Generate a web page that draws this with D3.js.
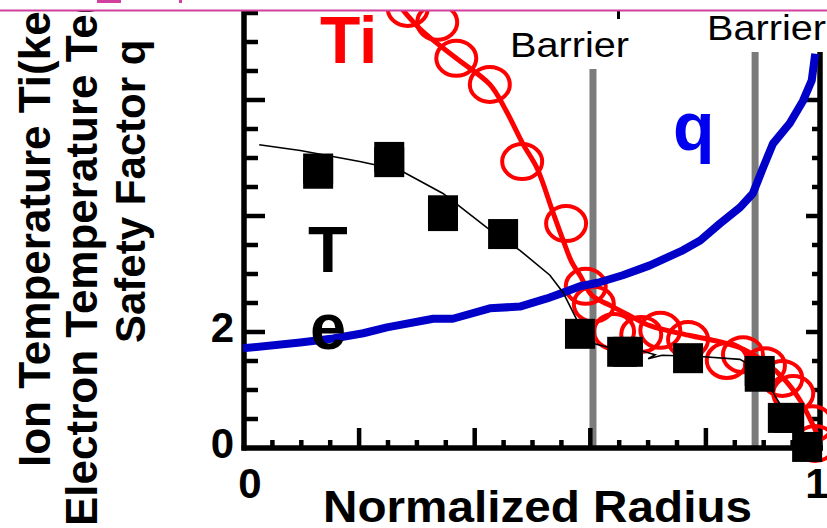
<!DOCTYPE html>
<html>
<head>
<meta charset="utf-8">
<script src="https://cdn.jsdelivr.net/npm/d3@7/dist/d3.min.js"></script>
<style>
  html, body { margin: 0; padding: 0; background: #fff; }
  svg { display: block; }
</style>
</head>
<body>
<svg id="chart" width="827" height="528"></svg>
<script>
// Electron temperature measurements (filled squares)
const teRadius = [0.130, 0.130, 0.253, 0.253, 0.346, 0.346, 0.450, 0.583, 0.656, 0.666, 0.770, 0.894, 0.894, 0.934, 0.945, 0.976];
const teValue  = [4.81, 4.72, 5.01, 4.92, 4.09, 3.99, 3.68, 1.96, 1.65, 1.65, 1.54, 1.32, 1.22, 0.51, 0.51, 0.01];

// Electron temperature fitted profile (thin black line)
const teFitRadius = [0.028, 0.099, 0.202, 0.272, 0.346, 0.422, 0.479, 0.531, 0.554, 0.578, 0.600, 0.635, 0.692, 0.713, 0.701, 0.725, 0.791, 0.860, 0.898, 0.920, 0.946, 0.969];
const teFitValue  = [5.22, 5.12, 4.93, 4.78, 4.38, 3.79, 3.40, 2.97, 2.67, 2.19, 1.81, 1.72, 1.66, 1.60, 1.53, 1.59, 1.57, 1.52, 1.29, 0.90, 0.47, 0.09];

// Ion temperature measurements (open circles)
const tiRadius = [0.285, 0.336, 0.369, 0.427, 0.483, 0.559, 0.593, 0.607, 0.642, 0.689, 0.722, 0.770, 0.837, 0.865, 0.903, 0.933, 0.952, 0.985, 0.990];
const tiValue  = [7.57, 7.33, 6.71, 6.26, 4.93, 3.86, 2.78, 2.47, 2.00, 1.95, 2.02, 1.86, 1.50, 1.60, 1.41, 1.19, 0.93, 0.41, 0.07];

// Ion temperature fitted profile (thick red line)
const tiFitRadius = [0.263, 0.306, 0.369, 0.427, 0.455, 0.484, 0.509, 0.535, 0.554, 0.569, 0.583, 0.604, 0.635, 0.666, 0.704, 0.773, 0.817, 0.860, 0.903, 0.938, 0.964, 0.985, 0.998];
const tiFitValue  = [7.71, 7.22, 6.71, 6.26, 5.81, 5.24, 4.81, 4.09, 3.57, 3.19, 2.97, 2.62, 2.45, 2.29, 2.10, 1.93, 1.84, 1.72, 1.47, 1.16, 0.81, 0.41, 0.12];

// Safety factor profile
const qRadius = [0.000, 0.099, 0.156, 0.208, 0.249, 0.329, 0.363, 0.427, 0.479, 0.526, 0.554, 0.583, 0.614, 0.657, 0.704, 0.761, 0.791, 0.825, 0.860, 0.882, 0.900, 0.917, 0.946, 0.969, 0.984, 0.990];
const qValue  = [1.71, 1.81, 1.88, 1.97, 2.07, 2.22, 2.22, 2.40, 2.43, 2.57, 2.67, 2.78, 2.84, 2.97, 3.14, 3.40, 3.57, 3.86, 4.14, 4.38, 4.83, 5.24, 5.59, 5.98, 6.33, 6.79];

// Transport barrier locations
const barrierRadius = [0.6055, 0.886];
const barrierText = ["Barrier", "Barrier"];

// Tick labels
const xTickValues = [0, 1];
const xTickLabels = ["0", "1"];
const yTickValues = [0, 2];
const yTickLabels = ["0", "2"];

const FONT = "'Liberation Sans', Arial, Helvetica, sans-serif";
const W = 827, H = 528;

const svg = d3.select("#chart");
svg.append("rect").attr("width", W).attr("height", H).attr("fill", "#fff");

svg.append("defs").append("clipPath").attr("id", "page")
  .append("rect").attr("x", 0).attr("y", 11).attr("width", W).attr("height", H - 11);

const g = svg.append("g").attr("clip-path", "url(#page)");

const x = d3.scaleLinear().domain([0, 1]).range([243, 821]);
const y = d3.scaleLinear().domain([0, 7.5]).range([447.5, 12.5]);

const leftX = 244, rightX = 820, bottomY = 448, rightTop = 52;

// ---- barriers ----
const barrierLabelY = [57, 40];
const barrierLabelX = [510, 707];
barrierRadius.forEach((r, i) => {
  g.append("line")
    .attr("x1", x(r)).attr("x2", x(r))
    .attr("y1", barrierLabelY[i] + 12).attr("y2", bottomY)
    .attr("stroke", "#7b7b7b").attr("stroke-width", 7);
  g.append("text")
    .attr("x", barrierLabelX[i]).attr("y", barrierLabelY[i])
    .attr("font-family", FONT).attr("font-size", 35)
    .attr("textLength", 119).attr("lengthAdjust", "spacingAndGlyphs")
    .attr("fill", "#000").text(barrierText[i]);
});

// ---- axes ----
function tickAxis(axisFn, scale, values, size) {
  return axisFn(scale).tickValues(values).tickSize(size).tickFormat("");
}
function styleAxis(sel, w) {
  sel.select(".domain").remove();
  sel.selectAll(".tick line").attr("stroke", "#000").attr("stroke-width", w);
}

const yMinor = d3.range(0.5, 7.51, 0.5).filter(v => v % 2 !== 0);
const yMajor = [2, 4, 6];
const yMinorRight = d3.range(0.5, 6.01, 0.5).filter(v => v % 2 !== 0);
const xMinor = d3.range(1, 20).map(i => i / 20).filter(v => Math.abs(v * 5 - Math.round(v * 5)) > 1e-6);
const xMajor = [0.2, 0.4, 0.6, 0.8];

g.append("g").attr("transform", `translate(${leftX},0)`)
  .call(tickAxis(d3.axisLeft, y, yMinor, -14)).call(s => styleAxis(s, 4.5));
g.append("g").attr("transform", `translate(${leftX},0)`)
  .call(tickAxis(d3.axisLeft, y, yMajor, -21)).call(s => styleAxis(s, 4.5));
g.append("g").attr("transform", `translate(${rightX},0)`)
  .call(tickAxis(d3.axisRight, y, yMinorRight, -8)).call(s => styleAxis(s, 4.5));
g.append("g").attr("transform", `translate(${rightX},0)`)
  .call(tickAxis(d3.axisRight, y, yMajor, -14)).call(s => styleAxis(s, 4.5));
g.append("g").attr("transform", `translate(0,${bottomY})`)
  .call(tickAxis(d3.axisBottom, x, xMinor, -8)).call(s => styleAxis(s, 4.5));
g.append("g").attr("transform", `translate(0,${bottomY})`)
  .call(tickAxis(d3.axisBottom, x, xMajor, -20)).call(s => styleAxis(s, 4.5));

g.append("line").attr("x1", leftX).attr("x2", leftX).attr("y1", 0).attr("y2", bottomY + 2.5)
  .attr("stroke", "#000").attr("stroke-width", 5.5);
g.append("line").attr("x1", leftX - 2.5).attr("x2", rightX + 3).attr("y1", bottomY).attr("y2", bottomY)
  .attr("stroke", "#000").attr("stroke-width", 5.5);
g.append("line").attr("x1", rightX).attr("x2", rightX).attr("y1", rightTop).attr("y2", bottomY + 2.5)
  .attr("stroke", "#000").attr("stroke-width", 5.5);

// tick labels
xTickValues.forEach((v, i) => {
  g.append("text")
    .attr("x", x(v) + (v === 0 ? 7 : -4)).attr("y", 498)
    .attr("text-anchor", "middle")
    .attr("font-family", FONT).attr("font-weight", "bold").attr("font-size", 42)
    .text(xTickLabels[i]);
});
yTickValues.forEach((v, i) => {
  g.append("text")
    .attr("x", 234).attr("y", y(v) + 10)
    .attr("text-anchor", "end")
    .attr("font-family", FONT).attr("font-weight", "bold").attr("font-size", 42)
    .text(yTickLabels[i]);
});

// axis titles
g.append("text")
  .attr("x", 323).attr("y", 522)
  .attr("font-family", FONT).attr("font-weight", "bold").attr("font-size", 44)
  .attr("textLength", 429).attr("lengthAdjust", "spacingAndGlyphs")
  .text("Normalized Radius");

const yTitles = [
  { text: "Ion Temperature Ti(keV)", x: 50, y: 467, size: 44 },
  { text: "Electron Temperature Te(keV)", x: 97, y: 526, size: 44 },
  { text: "Safety Factor q", x: 145, y: 343, size: 42 }
];
yTitles.forEach(t => {
  g.append("text")
    .attr("transform", `translate(${t.x},${t.y}) rotate(-90)`)
    .attr("font-family", FONT).attr("font-weight", "bold").attr("font-size", t.size)
    .text(t.text);
});

// ---- data ----
const plot = g.append("g");

// ion temperature fit
plot.append("path")
  .datum(d3.zip(tiFitRadius, tiFitValue))
  .attr("d", d3.line().x(d => x(d[0])).y(d => y(d[1])).curve(d3.curveCatmullRom))
  .attr("fill", "none").attr("stroke", "#ff0000").attr("stroke-width", 5)
  .attr("stroke-linejoin", "round");

// ion temperature points
plot.selectAll("ellipse.ti")
  .data(d3.zip(tiRadius, tiValue))
  .join("ellipse").attr("class", "ti")
  .attr("cx", d => x(d[0])).attr("cy", d => y(d[1]))
  .attr("rx", 20).attr("ry", 17.5)
  .attr("fill", "none").attr("stroke", "#ff0000").attr("stroke-width", 4);

// safety factor
plot.append("path")
  .datum(d3.zip(qRadius, qValue))
  .attr("d", d3.line().x(d => x(d[0])).y(d => y(d[1])))
  .attr("fill", "none").attr("stroke", "#0000c8").attr("stroke-width", 8)
  .attr("stroke-linejoin", "round");

// electron temperature fit
plot.append("path")
  .datum(d3.zip(teFitRadius, teFitValue))
  .attr("d", d3.line().x(d => x(d[0])).y(d => y(d[1])))
  .attr("fill", "none").attr("stroke", "#000").attr("stroke-width", 1.6);

// electron temperature points
const sq = 30;
plot.selectAll("rect.te")
  .data(d3.zip(teRadius, teValue))
  .join("rect").attr("class", "te")
  .attr("x", d => x(d[0]) - sq / 2).attr("y", d => y(d[1]) - sq / 2)
  .attr("width", sq).attr("height", sq).attr("fill", "#000");

// curve labels
g.append("text").attr("x", 320).attr("y", 63)
  .attr("font-family", FONT).attr("font-weight", "bold").attr("font-size", 66)
  .attr("fill", "#ff0000").text("Ti");
g.append("text").attr("x", 673).attr("y", 150)
  .attr("font-family", FONT).attr("font-weight", "bold").attr("font-size", 68)
  .attr("fill", "#0000f0").text("q");
g.append("text").attr("x", 308).attr("y", 272)
  .attr("font-family", FONT).attr("font-weight", "bold").attr("font-size", 65)
  .attr("fill", "#000").text("T");
g.append("text").attr("x", 310).attr("y", 349)
  .attr("font-family", FONT).attr("font-weight", "bold").attr("font-size", 65)
  .attr("fill", "#000").text("e");

// small mark along the upper edge
g.append("line").attr("x1", 618.5).attr("x2", 618.5).attr("y1", 11).attr("y2", 19)
  .attr("stroke", "#000").attr("stroke-width", 3);

// page header rule with link fragments
svg.append("line").attr("x1", 0).attr("x2", W).attr("y1", 10.5).attr("y2", 10.5)
  .attr("stroke", "#d0409c").attr("stroke-width", 2);
svg.append("rect").attr("x", 97).attr("y", 0).attr("width", 24).attr("height", 3).attr("fill", "#d0409c");
svg.append("rect").attr("x", 179).attr("y", 0).attr("width", 3).attr("height", 3).attr("fill", "#d0409c");
</script>
</body>
</html>
